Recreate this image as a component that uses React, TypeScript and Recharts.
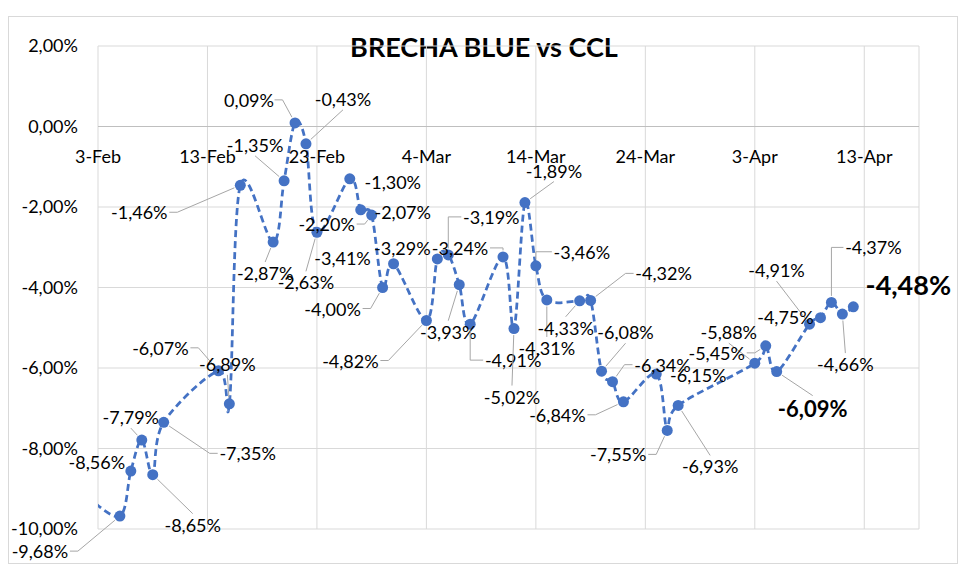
import React from "react";
import {
  LineChart,
  Line,
  XAxis,
  YAxis,
  CartesianGrid,
  ReferenceLine,
  LabelList,
} from "recharts";

// trading days (2024) and gap blue vs CCL, in %
const dates = [
  "2024-02-02", "2024-02-05", "2024-02-06", "2024-02-07", "2024-02-08", "2024-02-09",
  "2024-02-14", "2024-02-15", "2024-02-16", "2024-02-19", "2024-02-20", "2024-02-21",
  "2024-02-22", "2024-02-23", "2024-02-26", "2024-02-27", "2024-02-28", "2024-02-29",
  "2024-03-01", "2024-03-04", "2024-03-05", "2024-03-06", "2024-03-07", "2024-03-08",
  "2024-03-11", "2024-03-12", "2024-03-13", "2024-03-14", "2024-03-15", "2024-03-18",
  "2024-03-19", "2024-03-20", "2024-03-21", "2024-03-22", "2024-03-25", "2024-03-26",
  "2024-03-27", "2024-04-03", "2024-04-04", "2024-04-05", "2024-04-08", "2024-04-09",
  "2024-04-10", "2024-04-11", "2024-04-12",
];

const brecha = [
  -9.2, -9.68, -8.56, -7.79, -8.65, -7.35,
  -6.07, -6.89, -1.46, -2.87, -1.35, 0.09,
  -0.43, -2.63, -1.3, -2.07, -2.2, -4.0,
  -3.41, -4.82, -3.29, -3.19, -3.93, -4.91,
  -3.24, -5.02, -1.89, -3.46, -4.31, -4.33,
  -4.32, -6.08, -6.34, -6.84, -6.15, -7.55,
  -6.93, -5.88, -5.45, -6.09, -4.91, -4.75,
  -4.37, -4.66, -4.48,
];

const tickDates = [
  "2024-02-03", "2024-02-13", "2024-02-23", "2024-03-04",
  "2024-03-14", "2024-03-24", "2024-04-03", "2024-04-13",
];
const axisStart = "2024-02-03";
const axisEnd = "2024-04-18";
const yTicks = [2, 0, -2, -4, -6, -8, -10];

// where each data label sits relative to its point: dx, dy, leader kind
// "a" = straight leader, "e" = elbow leader, "" = no leader
const labelPos: [number, number, string][] = [
  [0, 0, ""], [-80, 35, "a"], [-34, -9, ""], [-11, -23, "a"], [40, 50, "a"], [84, 31, "a"],
  [-58, -23, "a"], [-2, -40, "a"], [-101, 27, "a"], [-8, 31, "a"], [-29, -36, "a"], [-46, -23, "a"],
  [37, -45, "a"], [-11, 50, "a"], [43, 3, ""], [42, 2, ""], [-45, 9, "a"], [-50, 21, "a"],
  [-51, -6, ""], [-76, 40, "a"], [-35, -11, ""], [43, -38, "e"], [-11, 47, "a"], [43, 36, "e"],
  [-43, -9, "e"], [-2, 68, "a"], [29, -32, "a"], [46, -14, "e"], [0, 48, "a"], [-14, 27, "a"],
  [73, -27, "a"], [24, -39, "a"], [50, -17, "a"], [-66, 13, "a"], [42, 1, ""], [-49, 24, "a"],
  [32, 61, "a"], [-26, -31, "a"], [-49, 7, "a"], [36, 37, "a"], [-33, -54, "a"], [-35, -1, ""],
  [42, -55, "e"], [3, 50, "a"], [55, -22, ""],
];
const bigLabels: Record<string, number> = { "2024-04-05": 22, "2024-04-12": 27 };

const MONTHS = ["Jan", "Feb", "Mar", "Apr", "May", "Jun", "Jul", "Aug", "Sep", "Oct", "Nov", "Dec"];
const toDay = (iso: string) => Date.parse(iso + "T00:00:00Z") / 86400000;
const dayLabel = (day: number) => {
  const d = new Date(day * 86400000);
  return `${d.getUTCDate()}-${MONTHS[d.getUTCMonth()]}`;
};
const pct = (v: number) => v.toFixed(2).replace(".", ",") + "%";

const data = dates.map((d, i) => ({ day: toDay(d), v: brecha[i] }));

const W = 980;
const H = 582;
const MARGIN = { top: 46, right: 61, bottom: 23, left: 0 };
const X_AXIS_H = 30;
const PLOT_H = H - MARGIN.top - MARGIN.bottom - X_AXIS_H;
const Y_MIN = -10;
const Y_MAX = 2;
const FONT = "Lato, 'Open Sans', sans-serif";
const FS = 18;
const BLUE = "#4472C4";
const DOT_R = 5.5;

// Excel-like smoothed line (bezier with neighbour tangents)
function excelSmooth(context: any) {
  let pts: number[][] = [];
  return {
    areaStart() {},
    areaEnd() {},
    lineStart() {
      pts = [];
    },
    point(x: number, y: number) {
      pts.push([+x, +y]);
    },
    lineEnd() {
      const n = pts.length;
      if (!n) return;
      context.moveTo(pts[0][0], pts[0][1]);
      for (let i = 0; i < n - 1; i++) {
        const p0 = pts[Math.max(i - 1, 0)];
        const p1 = pts[i];
        const p2 = pts[i + 1];
        const p3 = pts[Math.min(i + 2, n - 1)];
        context.bezierCurveTo(
          p1[0] + (p2[0] - p0[0]) / 6,
          p1[1] + (p2[1] - p0[1]) / 6,
          p2[0] - (p3[0] - p1[0]) / 6,
          p2[1] - (p3[1] - p1[1]) / 6,
          p2[0],
          p2[1]
        );
      }
    },
  };
}

const XTick = (props: any) => {
  const { x, y, payload } = props;
  const shift = (PLOT_H * (0 - Y_MIN)) / (Y_MAX - Y_MIN);
  return (
    <text
      x={x}
      y={y - shift + 29}
      textAnchor="middle"
      dominantBaseline="central"
      fill="#000"
      fontSize={FS}
      fontFamily={FONT}
    >
      {dayLabel(payload.value)}
    </text>
  );
};

const towards = (px: number, py: number, fx: number, fy: number, r: number) => {
  const dist = Math.hypot(fx - px, fy - py) || 1;
  return [px + ((fx - px) * r) / dist, py + ((fy - py) * r) / dist];
};

const renderLabel = (props: any) => {
  const { index, viewBox } = props;
  const lp = labelPos[index];
  if (!lp || toDay(dates[index]) < toDay(axisStart)) return null;
  const px = viewBox?.x ?? props.x;
  const py = viewBox?.y ?? props.y;
  const [dx, dy, kind] = lp;
  const fs = bigLabels[dates[index]] ?? FS;
  const bold = fs > FS;
  const text = pct(brecha[index]);
  const hw = (text.length * (bold ? 0.56 : 0.5) * fs) / 2;
  const hh = fs * 0.5;
  const cx = px + dx;
  const cy = py + dy;
  const sx = Math.sign(dx) || 1;
  const sy = Math.sign(dy) || 1;
  let d = "";
  if (kind === "e") {
    const ax = cx - sx * (hw + 3);
    const ey = py + sy * (DOT_R + 1);
    d = `M${ax},${cy}L${px},${cy}L${px},${ey}`;
  } else if (kind === "a") {
    if (Math.abs(dx) < hw || Math.abs(dy) > Math.abs(dx) * 0.8) {
      const ay = cy - sy * (hh + 2);
      const [ex, ey] = towards(px, py, cx, ay, DOT_R + 1);
      d = `M${cx},${ay}L${ex},${ey}`;
    } else {
      const ax = cx - sx * (hw + 3);
      const bx = ax - sx * 8;
      const [ex, ey] = towards(px, py, bx, cy, DOT_R + 1);
      d = `M${ax},${cy}L${bx},${cy}L${ex},${ey}`;
    }
  }
  return (
    <g>
      {d && <path d={d} fill="none" stroke="#a6a6a6" strokeWidth={1} />}
      <text
        x={cx}
        y={cy}
        textAnchor="middle"
        dominantBaseline="central"
        fill="#000"
        fontSize={fs}
        fontWeight={bold ? 700 : 400}
        fontFamily={FONT}
      >
        {text}
      </text>
    </g>
  );
};

export default function App() {
  return (
    <div style={{ position: "absolute", left: 0, top: 0, width: W, height: H, background: "#fff" }}>
      <div
        style={{
          position: "absolute",
          left: 8,
          top: 16,
          width: 950,
          height: 548,
          border: "1px solid #d9d9d9",
          boxSizing: "border-box",
        }}
      />
      <div
        style={{
          position: "absolute",
          left: 0,
          top: 31,
          width: 968,
          textAlign: "center",
          fontFamily: FONT,
          fontWeight: 700,
          fontSize: 27,
          lineHeight: "32px",
          color: "#000",
        }}
      >
        BRECHA BLUE vs CCL
      </div>
      <div style={{ position: "absolute", left: 0, top: 0 }}>
        <LineChart width={W} height={H} data={data} margin={MARGIN}>
          <CartesianGrid stroke="#d9d9d9" />
          <XAxis
            type="number"
            dataKey="day"
            domain={[toDay(axisStart), toDay(axisEnd)]}
            ticks={tickDates.map(toDay)}
            interval={0}
            allowDataOverflow
            axisLine={false}
            tickLine={false}
            tickSize={0}
            tickMargin={0}
            height={X_AXIS_H}
            tick={<XTick />}
          />
          <YAxis
            type="number"
            domain={[Y_MIN, Y_MAX]}
            ticks={yTicks}
            interval={0}
            allowDataOverflow
            tickFormatter={pct}
            width={98}
            axisLine={false}
            tickLine={false}
            tickSize={0}
            tickMargin={20}
            tick={{ fill: "#000", fontSize: FS, fontFamily: FONT }}
          />
          <ReferenceLine y={0} stroke="#bfbfbf" />
          <Line
            dataKey="v"
            type={excelSmooth as any}
            stroke={BLUE}
            strokeWidth={2.75}
            strokeDasharray="7 4"
            dot={{ r: DOT_R, fill: BLUE, stroke: "none" }}
            activeDot={false}
            isAnimationActive={false}
          >
            <LabelList dataKey="v" content={renderLabel} />
          </Line>
        </LineChart>
      </div>
    </div>
  );
}
